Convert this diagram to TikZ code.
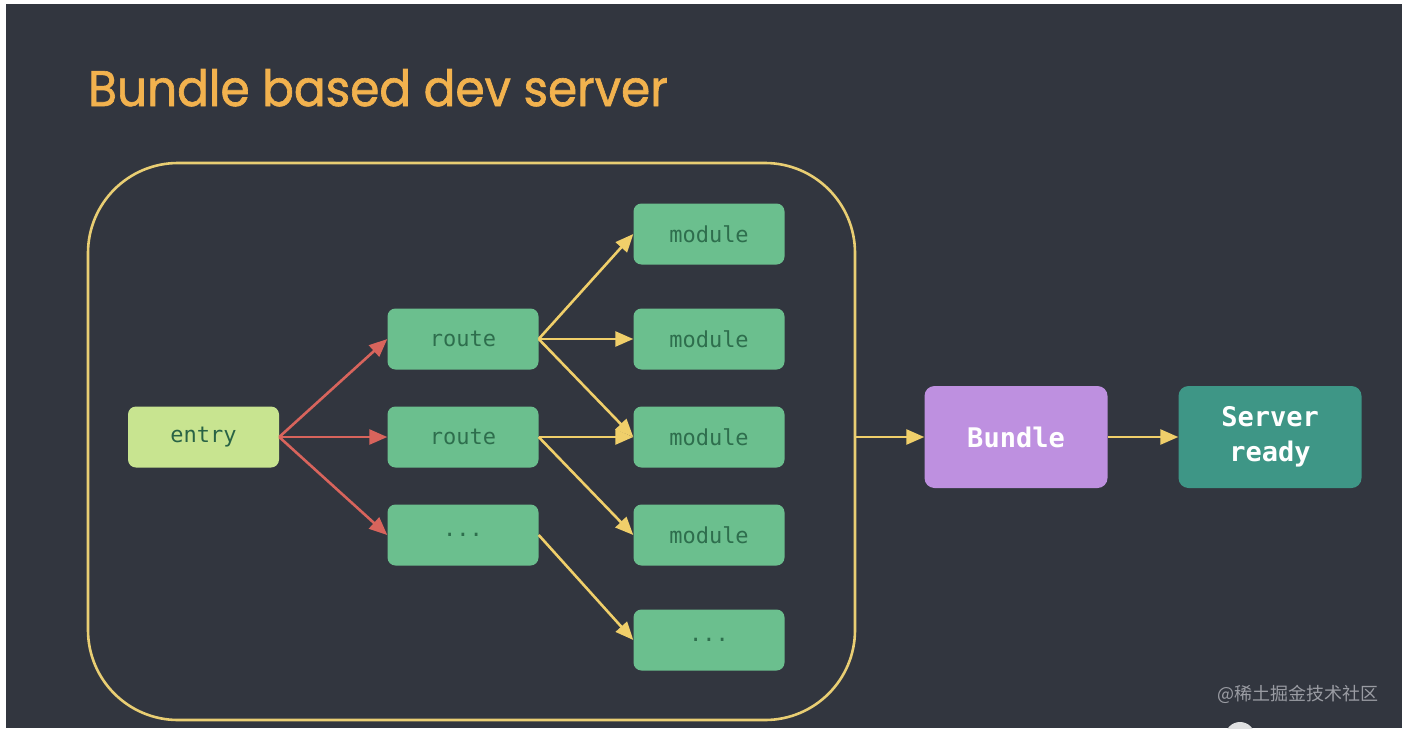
\documentclass[tikz,border=0pt]{standalone}
\usepackage{fontspec}
\usetikzlibrary{arrows.meta}
\setmainfont{Poppins}
\setmonofont{DejaVu Sans Mono}
\newfontfamily\titlefont{Poppins}[FakeStretch=0.94, FakeBold=1.3]
\newfontfamily\cjkfont{Noto Sans CJK SC}
\definecolor{bgc}{HTML}{32363F}
\definecolor{titlec}{HTML}{F2B24E}
\definecolor{framec}{HTML}{E9CE73}
\definecolor{entryc}{HTML}{C8E490}
\definecolor{greenc}{HTML}{6BBF8E}
\definecolor{gtext}{HTML}{2E6E4D}
\definecolor{purplec}{HTML}{BE90E0}
\definecolor{tealc}{HTML}{3E9686}
\definecolor{redc}{HTML}{D8645C}
\definecolor{yelc}{HTML}{F0CF6A}
\definecolor{wmc}{HTML}{9A9CA3}
\tikzset{
  box/.style={rounded corners=8pt, minimum width=151pt, minimum height=61pt, inner sep=0pt,
    font=\fontsize{22}{24}\selectfont\ttfamily, text=gtext},
  gbox/.style={box, fill=greenc},
  ebox/.style={box, fill=entryc, text=gtext!90!black},
  bigbox/.style={rounded corners=10pt, minimum width=183pt, minimum height=102pt, inner sep=0pt,
    font=\fontsize{27}{35}\selectfont\ttfamily\bfseries, text=white, align=center},
  redarrow/.style={draw=redc, line width=2.6pt, -{Triangle[length=18pt,width=15pt]}, fill=redc},
  yelarrow/.style={draw=yelc, line width=2.6pt, -{Triangle[length=18pt,width=15pt]}, fill=yelc},
}
\begin{document}
\begin{tikzpicture}[x=1pt,y=-1pt]
\useasboundingbox (0,0) rectangle (1402,728);
\fill[white] (0,0) rectangle (1402,728);
\fill[bgc] (6,4) rectangle (1402,728);
% title
\node[anchor=base west, inner sep=0pt, text=titlec, font=\fontsize{50}{60}\titlefont] (title) at (88,106) {Bundle based dev server};
% frame
\node[draw=framec, line width=2.6pt, rounded corners=90pt, minimum width=767pt, minimum height=557pt, inner sep=0pt] (frame) at (471.5,441.5) {};
% nodes
\node[ebox] (entry) at (203.5,437) {entry};
\node[gbox] (r1) at (463,339) {route};
\node[gbox] (r2) at (463,437) {route};
\node[gbox] (r3) at (463,535) {...};
\node[gbox] (m1) at (709,234) {module};
\node[gbox] (m2) at (709,339) {module};
\node[gbox] (m3) at (709,437) {module};
\node[gbox] (m4) at (709,535) {module};
\node[gbox] (m5) at (709,640) {...};
\node[bigbox, fill=purplec] (bundle) at (1016,437) {Bundle};
\node[bigbox, fill=tealc] (ready) at (1270,437) {Server\\ready};
% arrows
\draw[redarrow] (entry.east) -- (r1.west);
\draw[redarrow] (entry.east) -- (r2.west);
\draw[redarrow] (entry.east) -- (r3.west);
\draw[yelarrow] (r1.east) -- (m1.west);
\draw[yelarrow] (r1.east) -- (m2.west);
\draw[yelarrow] (r1.east) -- (m3.west);
\draw[yelarrow] (r2.east) -- (m3.west);
\draw[yelarrow] (r2.east) -- (m4.west);
\draw[yelarrow] (r3.east) -- (m5.west);
\draw[yelarrow] (frame.east |- bundle.west) -- (bundle.west);
\draw[yelarrow] (bundle.east) -- (ready.west);
% watermark
\node[anchor=west, inner sep=0pt, text=wmc, font=\fontsize{18}{20}\selectfont\cjkfont] (wm) at (1217,694) {@稀土掘金技术社区};
\begin{scope}
\clip (0,0) rectangle (1402,728);
\fill[white!85!bgc] (1240,737) circle (15pt);
\end{scope}
\end{tikzpicture}
\end{document}
